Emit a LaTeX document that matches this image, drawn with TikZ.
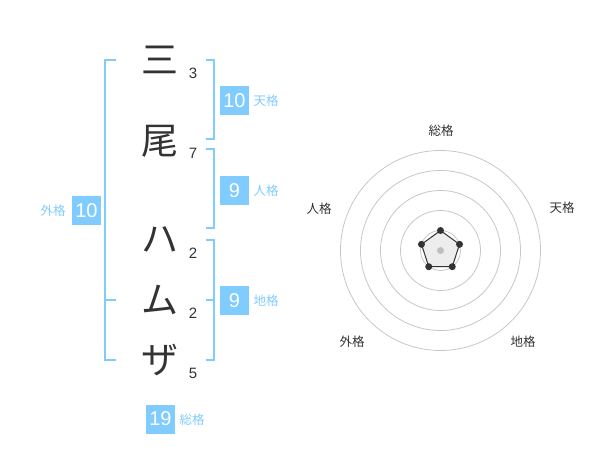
\documentclass[tikz,border=0pt]{standalone}
\usepackage{fontspec}
\setmainfont{Liberation Sans}
\newfontfamily\jp{Noto Sans CJK JP}
\definecolor{kblue}{HTML}{80CCFF}
\definecolor{ktext}{HTML}{333333}
\begin{document}
\begin{tikzpicture}[x=1pt,y=-1pt,
  chr/.style={font=\jp\fontsize{37}{37}\selectfont, text=ktext, inner sep=0pt},
  strokes/.style={font=\fontsize{15}{15}\selectfont, text=ktext, inner sep=0pt},
  numbox/.style={fill=kblue, text=white, minimum width=29pt, minimum height=29pt, inner sep=0pt, font=\fontsize{20}{20}\selectfont},
  lab/.style={text=kblue, font=\jp\fontsize{12.5}{12.5}\selectfont, inner sep=0pt},
  brk/.style={draw=kblue, line width=2pt},
  ring/.style={draw=black!22, line width=0.8pt},
  rlab/.style={font=\jp\fontsize{12.5}{12.5}\selectfont, text=ktext, inner sep=0pt},
  dot/.style={circle, fill=ktext, inner sep=0pt, minimum size=7pt}
]
\useasboundingbox (0,0) rectangle (600,470);
% characters
\node[chr] (c1) at (160,60) {三};
\node[chr] (c2) at (160,141) {尾};
\node[chr] (c3) at (160,240) {ハ};
\node[chr] (c4) at (160,300) {ム};
\node[chr] (c5) at (160,360) {ザ};
\node[strokes] (s1) at (193,73) {3};
\node[strokes] (s2) at (193,153) {7};
\node[strokes] (s3) at (193,253) {2};
\node[strokes] (s4) at (193,313) {2};
\node[strokes] (s5) at (193,373) {5};
% brackets
\draw[brk] (116,60) -- (105,60) -- (105,360) -- (116,360);
\draw[brk] (105,300) -- (116,300);
\draw[brk] (206,60) -- (214,60) -- (214,139) -- (206,139);
\draw[brk] (206,149) -- (214,149) -- (214,228) -- (206,228);
\draw[brk] (206,240) -- (214,240) -- (214,360) -- (206,360);
\draw[brk] (206,300) -- (214,300);
% boxes
\node[numbox] (ten) at (234.5,100.5) {10};
\node[lab] (tenl) at (266,101) {天格};
\node[numbox] (jin) at (234.5,190.5) {9};
\node[lab] (jinl) at (266,191) {人格};
\node[numbox] (chi) at (234.5,300.5) {9};
\node[lab] (chil) at (266,301) {地格};
\node[numbox] (gai) at (86.5,210.5) {10};
\node[lab] (gail) at (53,211) {外格};
\node[numbox] (sou) at (160.5,419) {19};
\node[lab] (soul) at (192,420) {総格};
% radar
\coordinate (o) at (440.5,250.5);
\foreach \r in {20,40,60,80,100} \draw[ring] (o) circle[radius=\r pt];
\path (o) ++(-90:20) coordinate (p1)
      (o) ++(-18:20) coordinate (p2)
      (o) ++(54:20) coordinate (p3)
      (o) ++(126:20) coordinate (p4)
      (o) ++(198:20) coordinate (p5);
\draw[fill=black!7, draw=ktext, line width=1pt] (p1) -- (p2) -- (p3) -- (p4) -- (p5) -- cycle;
\fill[black!25] (o) circle[radius=3.5pt];
\foreach \p in {p1,p2,p3,p4,p5} \node[dot] at (\p) {};
\node[rlab] (r1) at (441,131) {総格};
\node[rlab] (r2) at (562,208) {天格};
\node[rlab] (r3) at (319,209) {人格};
\node[rlab] (r4) at (352,342) {外格};
\node[rlab] (r5) at (523,342) {地格};
\end{tikzpicture}
\end{document}
